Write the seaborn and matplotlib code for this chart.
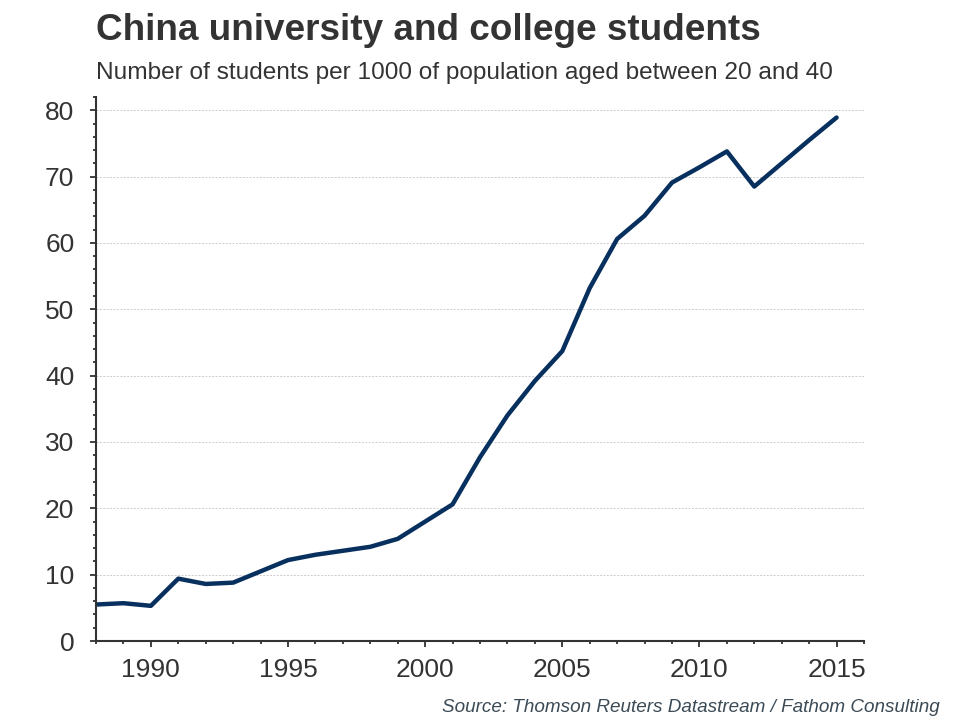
import matplotlib
matplotlib.use('Agg')
import matplotlib.pyplot as plt
import seaborn as sns
import pandas as pd
from matplotlib.ticker import MultipleLocator

years = list(range(1988, 2016))
students = [5.5, 5.7, 5.3, 9.4, 8.6, 8.8, 10.5, 12.2, 13.0, 13.6, 14.2, 15.4, 18.0, 20.6,
            27.7, 34.0, 39.2, 43.7, 53.2, 60.6, 64.1, 69.1, 71.4, 73.8, 68.5, 72.0, 75.5, 78.9]

df = pd.DataFrame({'year': years, 'students': students})

sns.set_theme(style="white")
plt.rcParams['font.family'] = ['Liberation Sans', 'DejaVu Sans']

text_col = '#333333'
line_col = '#08305e'

fig = plt.figure(figsize=(9.6, 7.2), dpi=100)
ax = fig.add_axes([0.1, 0.1097, 0.8, 0.7556])

sns.lineplot(data=df, x='year', y='students', ax=ax, color=line_col, linewidth=3.2)

ax.set_xlim(1988, 2016)
ax.set_ylim(0, 82)
ax.xaxis.set_major_locator(MultipleLocator(5))
ax.xaxis.set_minor_locator(MultipleLocator(1))
ax.yaxis.set_major_locator(MultipleLocator(10))
ax.yaxis.set_minor_locator(MultipleLocator(2))

ax.grid(axis='y', which='major', color='#cccccc', linestyle=(0, (2, 1.5)), linewidth=0.7)
ax.set_axisbelow(True)

for side in ['top', 'right']:
    ax.spines[side].set_visible(False)
for side in ['left', 'bottom']:
    ax.spines[side].set_color(text_col)
    ax.spines[side].set_linewidth(1.5)

ax.tick_params(axis='both', which='major', direction='out', length=4.5, width=1.3,
               color=text_col, labelsize=19, labelcolor=text_col)
ax.tick_params(axis='both', which='minor', direction='out', length=2.3, width=1.3, color=text_col)
ax.tick_params(axis='x', which='major', pad=7.5)
ax.tick_params(axis='y', which='major', pad=11)
ax.tick_params(left=True, bottom=True, which='both')

ax.set_xlabel('')
ax.set_ylabel('')

fig.text(0.1, 0.958, 'China university and college students', fontsize=26.6, fontweight='bold',
         color=text_col, ha='left', va='center')
fig.text(0.1, 0.899, 'Number of students per 1000 of population aged between 20 and 40', fontsize=17.6,
         color=text_col, ha='left', va='center')
fig.text(0.979, 0.018, 'Source: Thomson Reuters Datastream / Fathom Consulting', fontsize=13.6,
         style='italic', color='#3b4a55', ha='right', va='center')

fig.savefig('out.png', dpi=100)
